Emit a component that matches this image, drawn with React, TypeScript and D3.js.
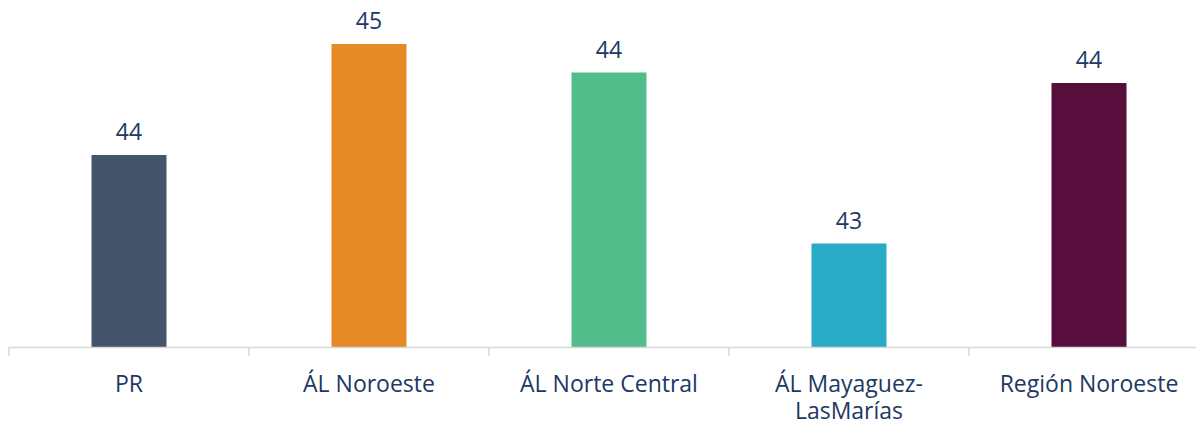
import React from "react";
import * as d3 from "d3";

// Category names (multi-line labels split on "\n")
const categories: string[] = [
  "PR",
  "ÁL Noroeste",
  "ÁL Norte Central",
  "ÁL Mayaguez-\nLasMarías",
  "Región Noroeste",
];

// Average values per area
const values: number[] = [43.78, 44.52, 44.33, 43.19, 44.26];

// Bar fill per category
const colors: string[] = ["#44546a", "#e68a27", "#52bd8a", "#2aabc5", "#570e3c"];

const WIDTH = 1196;
const HEIGHT = 423;
const TEXT_COLOR = "#203864";
const FONT = "'Open Sans', 'Noto Sans', sans-serif";

export default function App() {
  const x = d3
    .scaleBand<string>()
    .domain(categories)
    .range([9, 1209])
    .paddingInner(0.6875)
    .paddingOuter(0.34375);

  const y = d3.scaleLinear().domain([42.5, 44.7]).range([347, 17]);
  const fmt = d3.format(".0f");
  const step = x.step();
  const axisY = y.domain()[0];

  return (
    <svg
      width={WIDTH}
      height={HEIGHT}
      style={{ position: "absolute", left: 0, top: 0, background: "#fff" }}
      fontFamily={FONT}
    >
      {categories.map((c, i) => {
        const bx = x(c)!;
        const top = y(values[i]);
        const bottom = y(axisY);
        return (
          <g key={c}>
            <rect x={bx} y={top} width={x.bandwidth()} height={bottom - top} fill={colors[i]} />
            <text
              x={bx + x.bandwidth() / 2}
              y={top - 15}
              textAnchor="middle"
              fontSize={23}
              fill={TEXT_COLOR}
            >
              {fmt(values[i])}
            </text>
          </g>
        );
      })}

      {/* category axis */}
      <line x1={9} x2={WIDTH} y1={y(axisY) + 0.5} y2={y(axisY) + 0.5} stroke="#d9d9d9" strokeWidth={1.5} />
      {d3.range(categories.length + 1).map((k) => {
        const tx = 9 + k * step;
        return (
          <line key={k} x1={tx} x2={tx} y1={y(axisY)} y2={y(axisY) + 9} stroke="#d9d9d9" strokeWidth={1.5} />
        );
      })}
      {categories.map((c) => {
        const cx = x(c)! + x.bandwidth() / 2;
        const lines = c.split("\n");
        return (
          <text key={c} textAnchor="middle" fontSize={23} fill={TEXT_COLOR}>
            {lines.map((l, j) => (
              <tspan key={j} x={cx} y={391.5 + j * 27.5}>
                {l}
              </tspan>
            ))}
          </text>
        );
      })}
    </svg>
  );
}
